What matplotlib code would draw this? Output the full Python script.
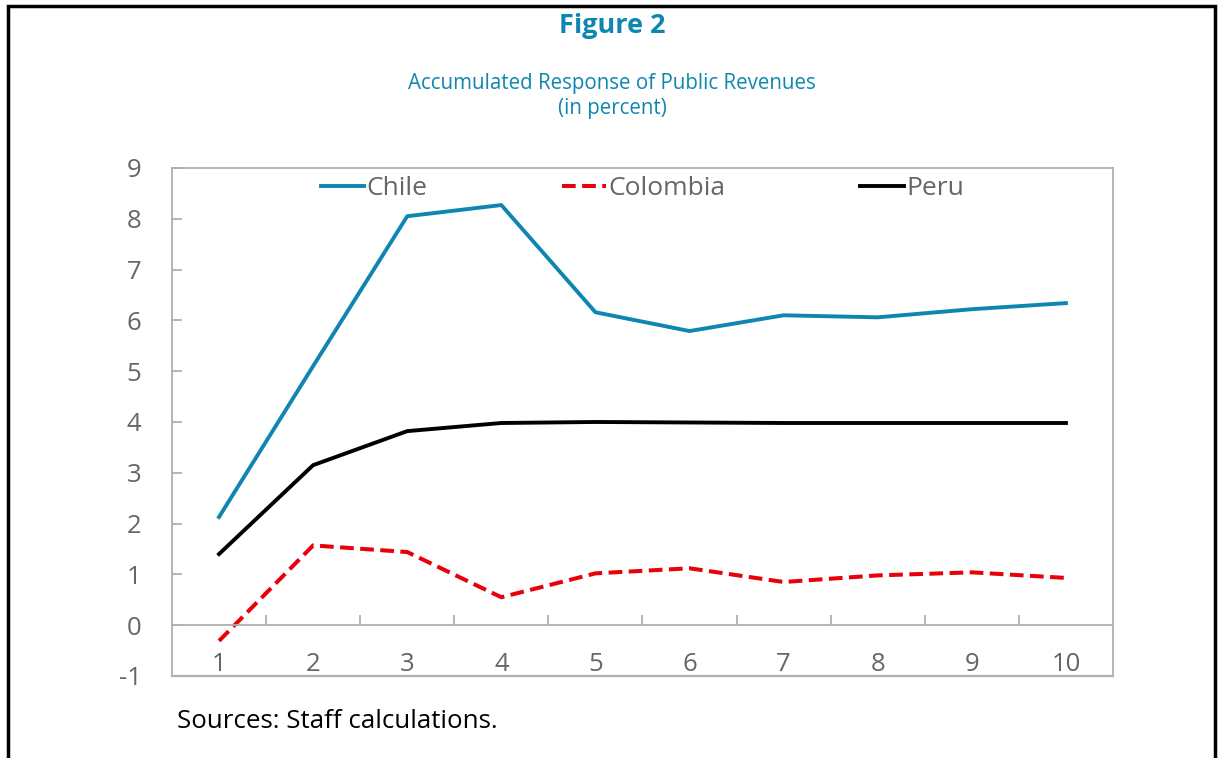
import matplotlib.pyplot as plt
from matplotlib.patches import Rectangle
from matplotlib.ticker import FixedLocator

plt.rcParams['font.family'] = ['Open Sans', 'DejaVu Sans']
plt.rcParams['axes.unicode_minus'] = False

periods = [1, 2, 3, 4, 5, 6, 7, 8, 9, 10]
chile = [2.13, 5.1, 8.05, 8.27, 6.16, 5.79, 6.1, 6.06, 6.22, 6.34]
colombia = [-0.31, 1.57, 1.44, 0.55, 1.02, 1.12, 0.85, 0.98, 1.04, 0.93]
peru = [1.40, 3.15, 3.82, 3.98, 4.0, 3.99, 3.98, 3.98, 3.98, 3.98]

TEAL = '#0E86B0'
GRAY = '#B0B0B0'
LABEL = '#666666'

fig = plt.figure(figsize=(12.24, 7.58), dpi=100)
ax = fig.add_axes([0.1405, 0.1082, 0.7688, 0.6702])

ax.plot(periods, chile, color=TEAL, lw=2.8, label='Chile')
ax.plot(periods, colombia, color='#E8000B', lw=2.9, ls=(0, (3.4, 1.6)), label='Colombia')
ax.plot(periods, peru, color='black', lw=2.8, label='Peru')

ax.set_xlim(0.5, 10.5)
ax.set_ylim(-1, 9)
ax.set_yticks(range(-1, 10))

for s in ax.spines.values():
    s.set_color(GRAY)
    s.set_linewidth(1.3)
ax.spines['bottom'].set_position(('data', 0))
ax.axhline(-1, color=GRAY, lw=1.6, clip_on=False)

ax.set_xticks(periods)
ax.xaxis.set_minor_locator(FixedLocator([p + 0.5 for p in periods[:-1]]))
ax.tick_params(axis='x', which='major', length=0, pad=19.5, labelsize=18.5, labelcolor=LABEL)
ax.tick_params(axis='x', which='minor', direction='in', length=7, color=GRAY, width=1.3)
ax.tick_params(axis='y', direction='in', length=7, color=GRAY, width=1.3,
               labelsize=18.5, labelcolor=LABEL, pad=22)

ax.legend(loc='upper center', ncol=3, frameon=False, fontsize=19, labelcolor=LABEL,
          handlelength=1.65, handletextpad=0.1, columnspacing=5.1,
          bbox_to_anchor=(0.5, 1.005), borderaxespad=0)

fig.text(0.5, 0.966, 'Figure 2', ha='center', va='center', fontsize=19.5,
         fontweight='bold', color=TEAL)
fig.text(0.5, 0.890, 'Accumulated Response of Public Revenues', ha='center', va='center',
         fontsize=14.8, color=TEAL)
fig.text(0.5, 0.857, '(in percent)', ha='center', va='center', fontsize=14.8, color=TEAL)
fig.text(0.145, 0.048, 'Sources: Staff calculations.', ha='left', va='center',
         fontsize=18.6, color='black')

fig.add_artist(Rectangle((0.0065, -0.05), 0.9865, 1.042, transform=fig.transFigure,
                         fill=False, edgecolor='black', lw=2.5, clip_on=False))

fig.savefig('out.png', dpi=100)
